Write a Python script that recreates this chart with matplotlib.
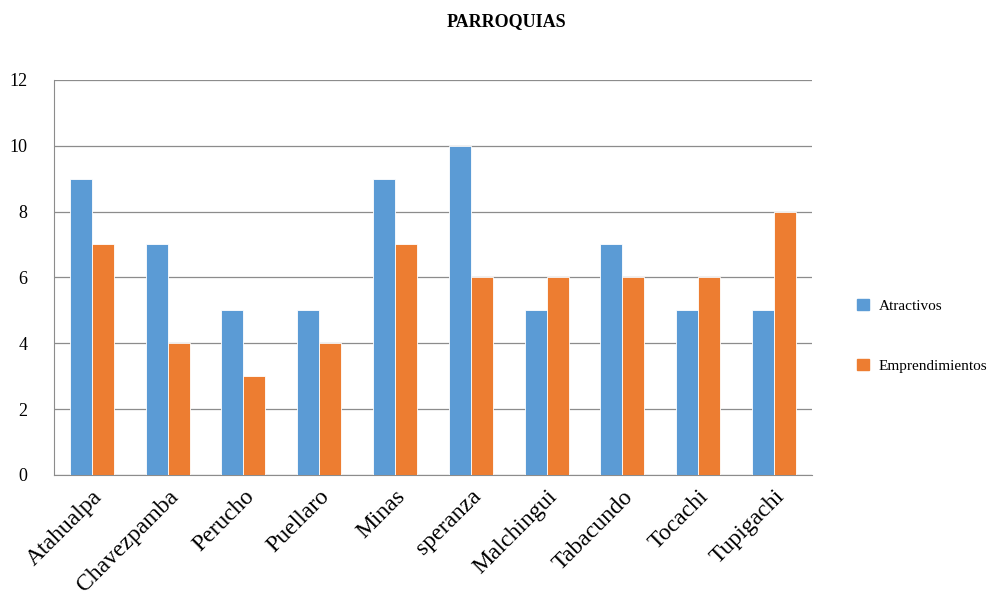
import numpy as np
import matplotlib
matplotlib.use("Agg")
import matplotlib.pyplot as plt
from matplotlib.patches import Patch

parroquias = ["Atahualpa", "Chavezpamba", "Perucho", "Puellaro", "Minas",
              "speranza", "Malchingui", "Tabacundo", "Tocachi", "Tupigachi"]
atractivos = [9, 7, 5, 5, 9, 10, 5, 7, 5, 5]
emprendimientos = [7, 4, 3, 4, 7, 6, 6, 6, 6, 8]

BLUE = "#5B9BD5"
ORANGE = "#ED7D31"

plt.rcParams["font.family"] = ["Liberation Serif", "DejaVu Serif"]

fig = plt.figure(figsize=(9.9, 6.05), dpi=100)
ax = fig.add_axes([0.0545, 0.215, 0.7655, 0.653])

x = np.arange(len(parroquias))
w = 0.29
ax.bar(x - w / 2, atractivos, w, color=BLUE, edgecolor="white", linewidth=0.6, zorder=3)
ax.bar(x + w / 2, emprendimientos, w, color=ORANGE, edgecolor="white", linewidth=0.6, zorder=3)

ax.set_xlim(-0.5, len(parroquias) - 0.5)
ax.set_ylim(0, 12)
ax.set_yticks(range(0, 13, 2))
ax.yaxis.grid(True, color="#8c8c8c", linewidth=0.9, zorder=0)
ax.set_axisbelow(True)

for side in ["top", "right"]:
    ax.spines[side].set_visible(False)
ax.spines["left"].set_color("#8c8c8c")
ax.spines["bottom"].set_color("#8c8c8c")
ax.tick_params(axis="both", length=0)
ax.tick_params(axis="y", labelsize=13, pad=19)

ax.set_xticks(x)
ax.set_xticklabels(parroquias, rotation=45, ha="right", rotation_mode="anchor", fontsize=17)
ax.tick_params(axis="x", pad=8)

fig.text(0.512, 0.965, "PARROQUIAS", ha="center", va="center", fontsize=13, fontweight="bold")

handles = [Patch(color=BLUE, label="Atractivos"), Patch(color=ORANGE, label="Emprendimientos")]
fig.legend(handles=handles, loc="center left", bbox_to_anchor=(0.852, 0.445), frameon=False,
           fontsize=11, handlelength=0.8, handleheight=0.8, handletextpad=0.6, labelspacing=3.0)

plt.savefig("out.png", dpi=100)
plt.close()
